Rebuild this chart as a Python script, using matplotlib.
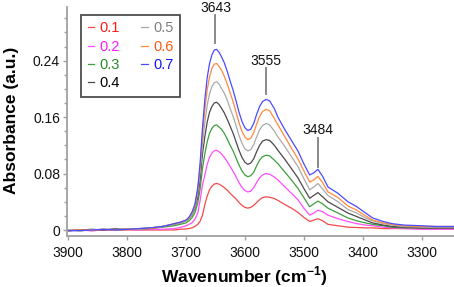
import matplotlib
matplotlib.use("Agg")
import matplotlib.pyplot as plt
from matplotlib.ticker import MultipleLocator, FixedLocator

plt.rcParams['font.family'] = ['Liberation Sans', 'DejaVu Sans']
plt.rcParams['mathtext.fontset'] = 'custom'
plt.rcParams['mathtext.rm'] = 'Liberation Sans'
plt.rcParams['mathtext.bf'] = 'Liberation Sans:bold'

# ---------------- data ----------------
wavenumber = [3900, 3880, 3860, 3840, 3820, 3800, 3780, 3760, 3740, 3720,
              3710, 3700, 3695, 3690, 3685, 3680, 3676, 3672, 3668, 3664,
              3660, 3656, 3652, 3648, 3644, 3640, 3635, 3630, 3625, 3620,
              3615, 3610, 3605, 3600, 3595, 3590, 3585, 3580, 3575, 3570,
              3564, 3558, 3550, 3544, 3532, 3521, 3510, 3500, 3490, 3483,
              3476, 3468, 3459, 3442, 3425, 3410, 3395, 3383, 3365, 3350,
              3330, 3300, 3275, 3245]

abs_01 = [-0.001, 0.000, -0.001, 0.000, 0.000, 0.000, 0.000, 0.000, 0.000, 0.000,
          0.001, 0.0015, 0.002, 0.003, 0.005, 0.008, 0.0125, 0.021, 0.036, 0.048,
          0.057, 0.062, 0.065, 0.066, 0.065, 0.063, 0.060, 0.0565, 0.052, 0.048,
          0.044, 0.039, 0.035, 0.032, 0.031, 0.032, 0.035, 0.039, 0.043, 0.046,
          0.047, 0.0465, 0.0445, 0.042, 0.036, 0.031, 0.025, 0.018, 0.012, 0.014,
          0.016, 0.013, 0.008, 0.006, 0.004, 0.0035, 0.003, 0.003, 0.002, 0.002,
          0.002, 0.002, 0.002, 0.002]
abs_02 = [-0.001, 0.000, -0.001, 0.000, 0.000, 0.001, 0.000, 0.001, 0.001, 0.002,
          0.0035, 0.006, 0.008, 0.010, 0.015, 0.024, 0.042, 0.064, 0.078, 0.093,
          0.103, 0.109, 0.1125, 0.113, 0.111, 0.108, 0.103, 0.097, 0.090, 0.083,
          0.0755, 0.067, 0.0605, 0.056, 0.054, 0.055, 0.060, 0.0675, 0.074, 0.078,
          0.080, 0.079, 0.075, 0.071, 0.061, 0.052, 0.043, 0.031, 0.021, 0.024,
          0.028, 0.026, 0.021, 0.016, 0.012, 0.009, 0.007, 0.006, 0.004, 0.003,
          0.002, 0.001, 0.001, 0.001]
abs_03 = [0.000, -0.001, 0.000, 0.001, 0.000, 0.001, 0.001, 0.002, 0.004, 0.006,
          0.008, 0.010, 0.013, 0.017, 0.024, 0.038, 0.058, 0.087, 0.108, 0.125,
          0.137, 0.144, 0.148, 0.149, 0.146, 0.143, 0.137, 0.129, 0.120, 0.112,
          0.102, 0.092, 0.084, 0.078, 0.0755, 0.077, 0.082, 0.091, 0.099, 0.104,
          0.106, 0.105, 0.099, 0.094, 0.082, 0.071, 0.059, 0.046, 0.033, 0.037,
          0.041, 0.037, 0.031, 0.024, 0.017, 0.013, 0.010, 0.008, 0.006, 0.004,
          0.003, 0.003, 0.003, 0.003]
abs_04 = [-0.001, 0.000, 0.001, 0.000, 0.002, 0.001, 0.002, 0.003, 0.005, 0.008,
          0.010, 0.013, 0.016, 0.021, 0.030, 0.047, 0.072, 0.108, 0.132, 0.153,
          0.167, 0.175, 0.180, 0.181, 0.178, 0.173, 0.166, 0.157, 0.147, 0.137,
          0.125, 0.113, 0.103, 0.096, 0.093, 0.095, 0.101, 0.111, 0.120, 0.126,
          0.128, 0.127, 0.120, 0.113, 0.100, 0.087, 0.074, 0.059, 0.045, 0.049,
          0.053, 0.047, 0.040, 0.032, 0.024, 0.019, 0.014, 0.010, 0.007, 0.005,
          0.004, 0.003, 0.003, 0.003]
abs_05 = [0.000, -0.001, 0.000, 0.001, 0.001, 0.002, 0.001, 0.003, 0.005, 0.008,
          0.010, 0.013, 0.016, 0.022, 0.032, 0.053, 0.082, 0.122, 0.152, 0.177,
          0.193, 0.203, 0.209, 0.210, 0.207, 0.201, 0.194, 0.184, 0.172, 0.161,
          0.148, 0.134, 0.123, 0.115, 0.112, 0.114, 0.121, 0.132, 0.142, 0.148,
          0.151, 0.149, 0.140, 0.132, 0.118, 0.104, 0.090, 0.073, 0.057, 0.061,
          0.066, 0.058, 0.049, 0.040, 0.029, 0.024, 0.017, 0.013, 0.009, 0.007,
          0.005, 0.004, 0.004, 0.004]
abs_06 = [-0.001, 0.000, 0.000, 0.001, 0.000, 0.001, 0.002, 0.002, 0.005, 0.009,
          0.011, 0.014, 0.017, 0.024, 0.034, 0.057, 0.089, 0.136, 0.171, 0.199,
          0.217, 0.229, 0.235, 0.236, 0.232, 0.227, 0.218, 0.207, 0.194, 0.182,
          0.167, 0.152, 0.140, 0.132, 0.128, 0.130, 0.138, 0.150, 0.161, 0.168,
          0.171, 0.169, 0.158, 0.149, 0.132, 0.116, 0.101, 0.084, 0.068, 0.071,
          0.076, 0.067, 0.054, 0.046, 0.034, 0.028, 0.020, 0.014, 0.010, 0.008,
          0.006, 0.005, 0.005, 0.005]
abs_07 = [-0.001, -0.001, 0.000, 0.001, 0.000, 0.001, 0.002, 0.003, 0.005, 0.009,
          0.011, 0.014, 0.018, 0.025, 0.036, 0.060, 0.095, 0.145, 0.185, 0.216,
          0.236, 0.248, 0.255, 0.256, 0.252, 0.246, 0.237, 0.225, 0.211, 0.198,
          0.183, 0.167, 0.154, 0.145, 0.141, 0.143, 0.151, 0.164, 0.175, 0.182,
          0.185, 0.183, 0.172, 0.160, 0.142, 0.127, 0.112, 0.094, 0.078, 0.081,
          0.086, 0.076, 0.061, 0.052, 0.040, 0.033, 0.024, 0.017, 0.012, 0.009,
          0.007, 0.006, 0.005, 0.005]

series = [abs_01, abs_02, abs_03, abs_04, abs_05, abs_06, abs_07]
series_labels = ["0.1", "0.2", "0.3", "0.4", "0.5", "0.6", "0.7"]
line_colors = ["#f24b4b", "#ff4dff", "#3d9e3d", "#4a4a4a", "#aaaaaa", "#ff8a3d", "#4b4bff"]
text_colors = ["#ff1a1a", "#ff1aff", "#2a8a2a", "#000000", "#808080", "#ff5a14", "#1414ff"]

peak_labels = ["3643", "3555", "3484"]
peak_x = [3650, 3564, 3476]
peak_line_bottom = [0.265, 0.193, 0.089]
peak_line_top = [0.304, 0.229, 0.130]
peak_text_y = [0.314, 0.239, 0.141]

x_ticks = [3900, 3800, 3700, 3600, 3500, 3400, 3300]
y_ticks = [0, 0.08, 0.16, 0.24]
y_tick_labels = ["0", "0.08", "0.16", "0.24"]

# ---------------- figure ----------------
W, H = 454, 287
fig = plt.figure(figsize=(W / 100, H / 100), dpi=100)
ax = fig.add_axes([67 / W, 1 - 236 / H, 387 / W, 229 / H])

handles = []
for ys, lab, c in zip(series, series_labels, line_colors):
    h, = ax.plot(wavenumber, ys, color=c, lw=0.9, label=lab)
    handles.append(h)

for lab, px, yb, yt, ty in zip(peak_labels, peak_x, peak_line_bottom, peak_line_top, peak_text_y):
    ax.plot([px, px], [yb, yt], color="#808080", lw=1.3)
    ax.text(px, ty, lab, ha="center", va="center", fontsize=10, color="#111111")

ax.set_xlim(3902, 3245)
ax.set_ylim(-0.0085, 0.316)

ax.xaxis.set_major_locator(FixedLocator(x_ticks))
ax.set_yticks(y_ticks)
ax.set_yticklabels(y_tick_labels)
ax.yaxis.set_minor_locator(MultipleLocator(0.02))

for s in ["top", "right"]:
    ax.spines[s].set_visible(False)
for s in ["left", "bottom"]:
    ax.spines[s].set_color("#a0a0a0")
    ax.spines[s].set_linewidth(1.3)

ax.tick_params(axis="both", which="major", labelsize=10, colors="#a0a0a0",
               labelcolor="#111111", length=3, width=1)
ax.tick_params(axis="y", which="major", pad=2)
ax.tick_params(axis="y", which="minor", length=2.5, width=1, colors="#a0a0a0")
ax.tick_params(axis="x", which="major", pad=4)

ax.set_xlabel("Wavenumber (cm$^{\\mathbf{-1}}$)", fontsize=12.5, fontweight="bold")
ax.set_ylabel("Absorbance (a.u.)", fontsize=12.5, fontweight="bold")
ax.xaxis.set_label_coords(0.457, -0.125)
ax.yaxis.set_label_coords(-0.125, 0.505)

leg = ax.legend(handles, series_labels,
                ncol=2, loc="upper left", bbox_to_anchor=(14 / 387, (236 - 14.7) / 229),
                fontsize=10.5, frameon=True, fancybox=False, borderaxespad=0,
                handlelength=0.45, handletextpad=0.35, columnspacing=1.5,
                labelspacing=0.3, borderpad=0.45)
leg.get_frame().set_edgecolor("#222222")
leg.get_frame().set_linewidth(1.3)
for t, c in zip(leg.get_texts(), text_colors):
    t.set_color(c)

fig.savefig("out.png", dpi=100)
